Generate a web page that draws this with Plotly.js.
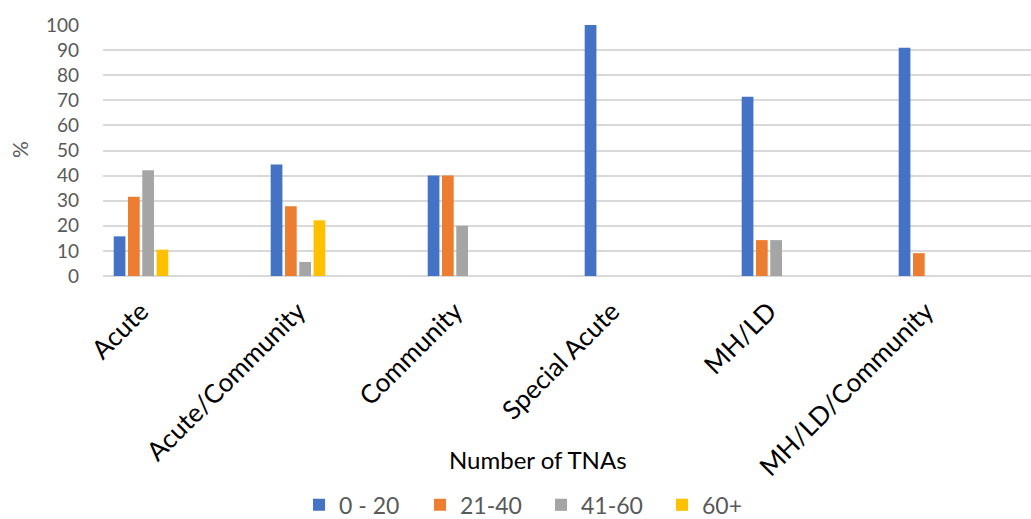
<!DOCTYPE html>
<html>
<head>
<meta charset="utf-8">
<script src="https://cdn.plot.ly/plotly-3.0.1.min.js"></script>
<style>html,body{margin:0;padding:0;background:#fff;}#chart{width:1031px;height:519px;}</style>
</head>
<body>
<div id="chart"></div>
<script>
const categories = ["Acute", "Acute/Community", "Community", "Special Acute", "MH/LD", "MH/LD/Community"];
const seriesNames = ["0 - 20", "21-40", "41-60", "60+"];
const s0_20 = [15.8, 44.4, 40, 100, 71.4, 90.9];
const s21_40 = [31.6, 27.8, 40, 0, 14.3, 9.1];
const s41_60 = [42.1, 5.6, 20, 0, 14.3, 0];
const s60plus = [10.5, 22.2, 0, 0, 0, 0];
const yTicks = [0, 10, 20, 30, 40, 50, 60, 70, 80, 90, 100];

const colors = ["#4472C4", "#ED7D31", "#A5A5A5", "#FFC000"];
const allSeries = [s0_20, s21_40, s41_60, s60plus];
const FONT = "Lato, 'Open Sans', sans-serif";

const traces = allSeries.map((vals, i) => ({
  type: "bar",
  name: seriesNames[i],
  x: categories,
  y: vals,
  marker: {color: colors[i], line: {width: 0}},
  hoverinfo: "x+y+name"
}));

const layout = {
  width: 1031,
  height: 519,
  margin: {l: 103, r: 0, t: 25, b: 243, autoexpand: false},
  paper_bgcolor: "#ffffff",
  plot_bgcolor: "#ffffff",
  font: {family: FONT, color: "#595959"},
  barmode: "group",
  bargap: 0.636,
  bargroupgap: 0.18,
  xaxis: {
    type: "category",
    range: [-0.242, 5.669],
    tickangle: -45,
    tickfont: {size: 26, color: "#000000", family: FONT},
    ticklabelstandoff: 14,
    showgrid: false,
    showline: false,
    zeroline: false,
    ticks: "",
    automargin: false
  },
  yaxis: {
    range: [0, 100],
    tickvals: yTicks,
    ticktext: yTicks.map(String),
    tickfont: {size: 19, color: "#595959", family: FONT},
    ticklabelstandoff: 23,
    showgrid: true,
    gridcolor: "#d9d9d9",
    gridwidth: 1.5,
    zeroline: true,
    zerolinecolor: "#d9d9d9",
    zerolinewidth: 1.5,
    showline: false,
    ticks: "",
    automargin: false
  },
  showlegend: true,
  legend: {
    orientation: "h",
    x: 0.472,
    xanchor: "center",
    y: -0.912,
    yanchor: "middle",
    font: {size: 23, color: "#595959", family: FONT},
    entrywidth: 76,
    traceorder: "normal"
  },
  annotations: [{
    text: "Number of TNAs",
    xref: "paper", yref: "paper",
    x: 0.469, y: -0.733,
    xanchor: "center", yanchor: "middle",
    showarrow: false,
    font: {size: 24, color: "#000000", family: FONT}
  }, {
    text: "%",
    xref: "paper", yref: "paper",
    x: -0.0894, y: 0.502,
    xanchor: "center", yanchor: "middle",
    textangle: -90,
    showarrow: false,
    font: {size: 21, color: "#595959", family: FONT}
  }]
};

Plotly.newPlot("chart", traces, layout, {displayModeBar: false, responsive: false});
</script>
</body>
</html>
